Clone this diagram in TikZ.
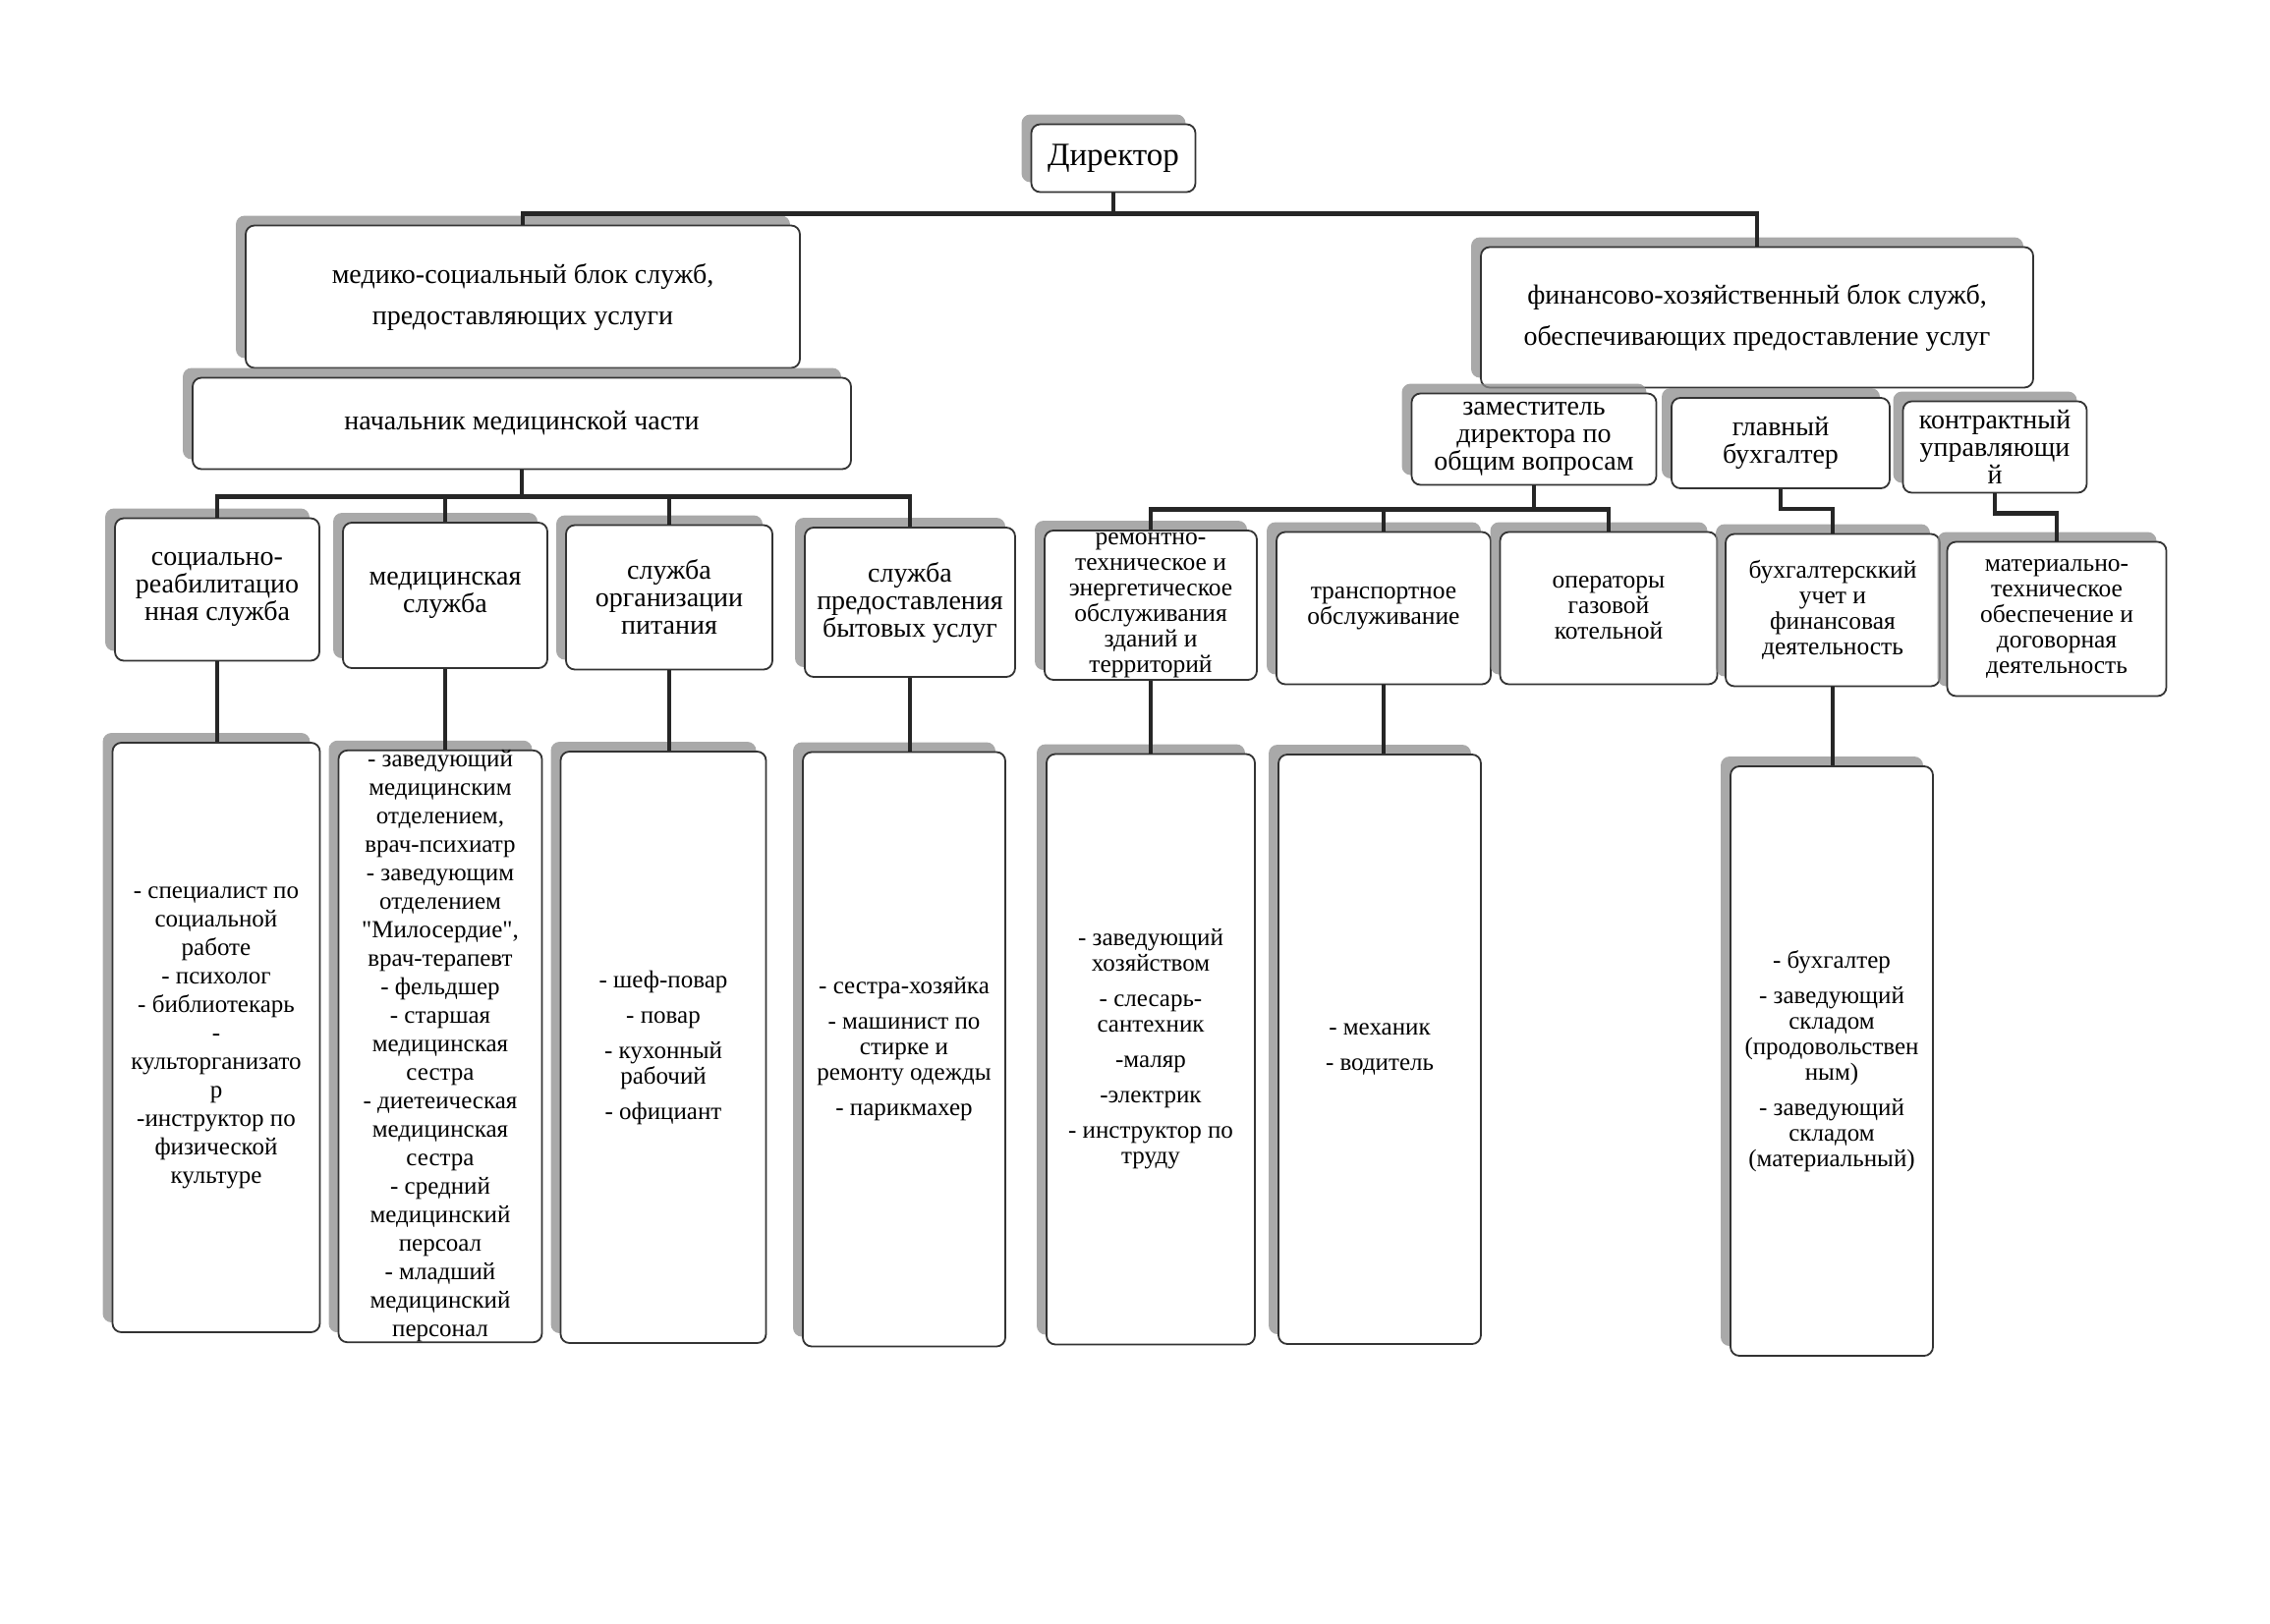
\documentclass[tikz,border=0pt]{standalone}
\usepackage{fontspec}
\setmainfont{Liberation Serif}
\usetikzlibrary{shadows}
\tikzset{
  line cap=rect,
}
\tikzstyle{box}=[draw=black!80,line width=1.8pt,rounded corners=9pt,fill=white,
  align=center,inner sep=0pt,
  drop shadow={shadow xshift=-10pt,shadow yshift=10pt,fill=black!45,opacity=.75}]
\tikzstyle{link}=[line width=4.5pt,draw=black!85]
\tikzstyle{chief}=[font=\fontsize{33}{33}\selectfont]
\tikzstyle{block}=[font=\fontsize{28}{42}\selectfont]
\tikzstyle{unit}=[font=\fontsize{28}{28}\selectfont]
\tikzstyle{dept}=[font=\fontsize{25.5}{26}\selectfont]
\tikzstyle{staff}=[font=\fontsize{25}{29}\selectfont]
\tikzstyle{staffs}=[font=\fontsize{25}{26}\selectfont]

\begin{document}
\begin{tikzpicture}[x=1pt,y=-1pt]
  \useasboundingbox (0,0) rectangle (2310,1652);
  % top of the tree
  \node[box,chief,minimum width=167pt,minimum height=69pt] (dir) at (1133,161) {Директор};
  \node[box,block,minimum width=564pt,minimum height=145pt] (med) at (532,302)
    {медико-социальный блок служб,\\предоставляющих услуги};
  \node[box,block,minimum width=562pt,minimum height=143pt] (fin) at (1788,323)
    {финансово-хозяйственный блок служб,\\обеспечивающих предоставление услуг};
  \node[box,unit,minimum width=670pt,minimum height=93pt] (head) at (531,431)
    {начальник медицинской части};
  \node[box,unit,minimum width=249pt,minimum height=93pt] (zam) at (1561,447)
    {заместитель\\директора по\\общим вопросам};
  \node[box,unit,minimum width=222pt,minimum height=92pt] (gb) at (1812,451)
    {главный\\бухгалтер};
  \node[box,unit,minimum width=187pt,minimum height=93pt] (kon) at (2030,455)
    {контрактный\\управляющи\\й};
  % services
  \node[box,unit,minimum width=208pt,minimum height=145pt] (s1) at (221,600)
    {социально-\\реабилитацио\\нная служба};
  \node[box,unit,minimum width=208pt,minimum height=148pt] (s2) at (453,606)
    {медицинская\\служба};
  \node[box,unit,minimum width=210pt,minimum height=147pt] (s3) at (681,608)
    {служба\\организации\\питания};
  \node[box,unit,minimum width=214pt,minimum height=152pt] (s4) at (926,613)
    {служба\\предоставления\\бытовых услуг};
  \node[box,dept,minimum width=216pt,minimum height=152pt] (rem) at (1171,616)
    {ремонтно-\\техническое и\\энергетическое\\обслуживания\\зданий и\\территорий};
  \node[box,dept,minimum width=218pt,minimum height=155pt] (tr) at (1408,619)
    {транспортное\\обслуживание};
  \node[box,dept,minimum width=221pt,minimum height=155pt] (op) at (1637,619)
    {операторы\\газовой\\котельной};
  \node[box,dept,minimum width=218pt,minimum height=155pt] (bu) at (1865,621)
    {бухгалтерсккий\\учет и\\финансовая\\деятельность};
  \node[box,dept,minimum width=223pt,minimum height=157pt] (mt) at (2093,630)
    {материально-\\техническое\\обеспечение и\\договорная\\деятельность};
  % staff
  \node[box,staff,minimum width=211pt,minimum height=600pt] (p1) at (220,1056)
    {- специалист по\\социальной\\работе\\- психолог\\- библиотекарь\\-\\культорганизато\\р\\-инструктор по\\физической\\культуре};
  \node[box,staff,minimum width=207pt,minimum height=600pt] (p2) at (448,1065)
    {- заведующий\\медицинским\\отделением,\\врач-психиатр\\- заведующим\\отделением\\\textquotedbl Милосердие\textquotedbl,\\врач-терапевт\\- фельдшер\\- старшая\\медицинская\\сестра\\- диетеическая\\медицинская\\сестра\\- средний\\медицинский\\персоал\\- младший\\медицинский\\персонал};
  \node[box,staffs,minimum width=209pt,minimum height=602pt] (p3) at (675,1066)
    {- шеф-повар\\[10pt]- повар\\[10pt]- кухонный\\рабочий\\[10pt]- официант};
  \node[box,staffs,minimum width=206pt,minimum height=605pt] (p4) at (920,1068)
    {- сестра-хозяйка\\[10pt]- машинист по\\стирке и\\ремонту одежды\\[10pt]- парикмахер};
  \node[box,staffs,minimum width=212pt,minimum height=601pt] (p5) at (1171,1068)
    {- заведующий\\хозяйством\\[10pt]- слесарь-\\сантехник\\[10pt]-маляр\\[10pt]-электрик\\[10pt]- инструктор по\\труду};
  \node[box,staffs,minimum width=206pt,minimum height=600pt] (p6) at (1404,1068)
    {- механик\\[10pt]- водитель};
  \node[box,staffs,minimum width=206pt,minimum height=600pt] (p7) at (1864,1080)
    {- бухгалтер\\[10pt]- заведующий\\складом\\(продовольствен\\ным)\\[10pt]- заведующий\\складом\\(материальный)};
  % connectors
  \draw[link] (dir.south) -- ++(0,21) -| (med.north);
  \draw[link] (dir.south) -- ++(0,21) -| (fin.north);
  \draw[link] (head.south) -- ++(0,27) -| (s1.north);
  \draw[link] (head.south) -- ++(0,27) -| (s2.north);
  \draw[link] (head.south) -- ++(0,27) -| (s3.north);
  \draw[link] (head.south) -- ++(0,27) -| (s4.north);
  \draw[link] (zam.south) -- ++(0,24) -| (rem.north);
  \draw[link] (zam.south) -- ++(0,24) -| (tr.north);
  \draw[link] (zam.south) -- ++(0,24) -| (op.north);
  \draw[link] (gb.south) -- ++(0,20) -| (bu.north);
  \draw[link] (kon.south) -- ++(0,20) -| (mt.north);
  \draw[link] (s1.south) -- (s1.south |- p1.north);
  \draw[link] (s2.south) -- (s2.south |- p2.north);
  \draw[link] (s3.south) -- (s3.south |- p3.north);
  \draw[link] (s4.south) -- (s4.south |- p4.north);
  \draw[link] (rem.south) -- (rem.south |- p5.north);
  \draw[link] (tr.south) -- (tr.south |- p6.north);
  \draw[link] (bu.south) -- (bu.south |- p7.north);
\end{tikzpicture}
\end{document}
